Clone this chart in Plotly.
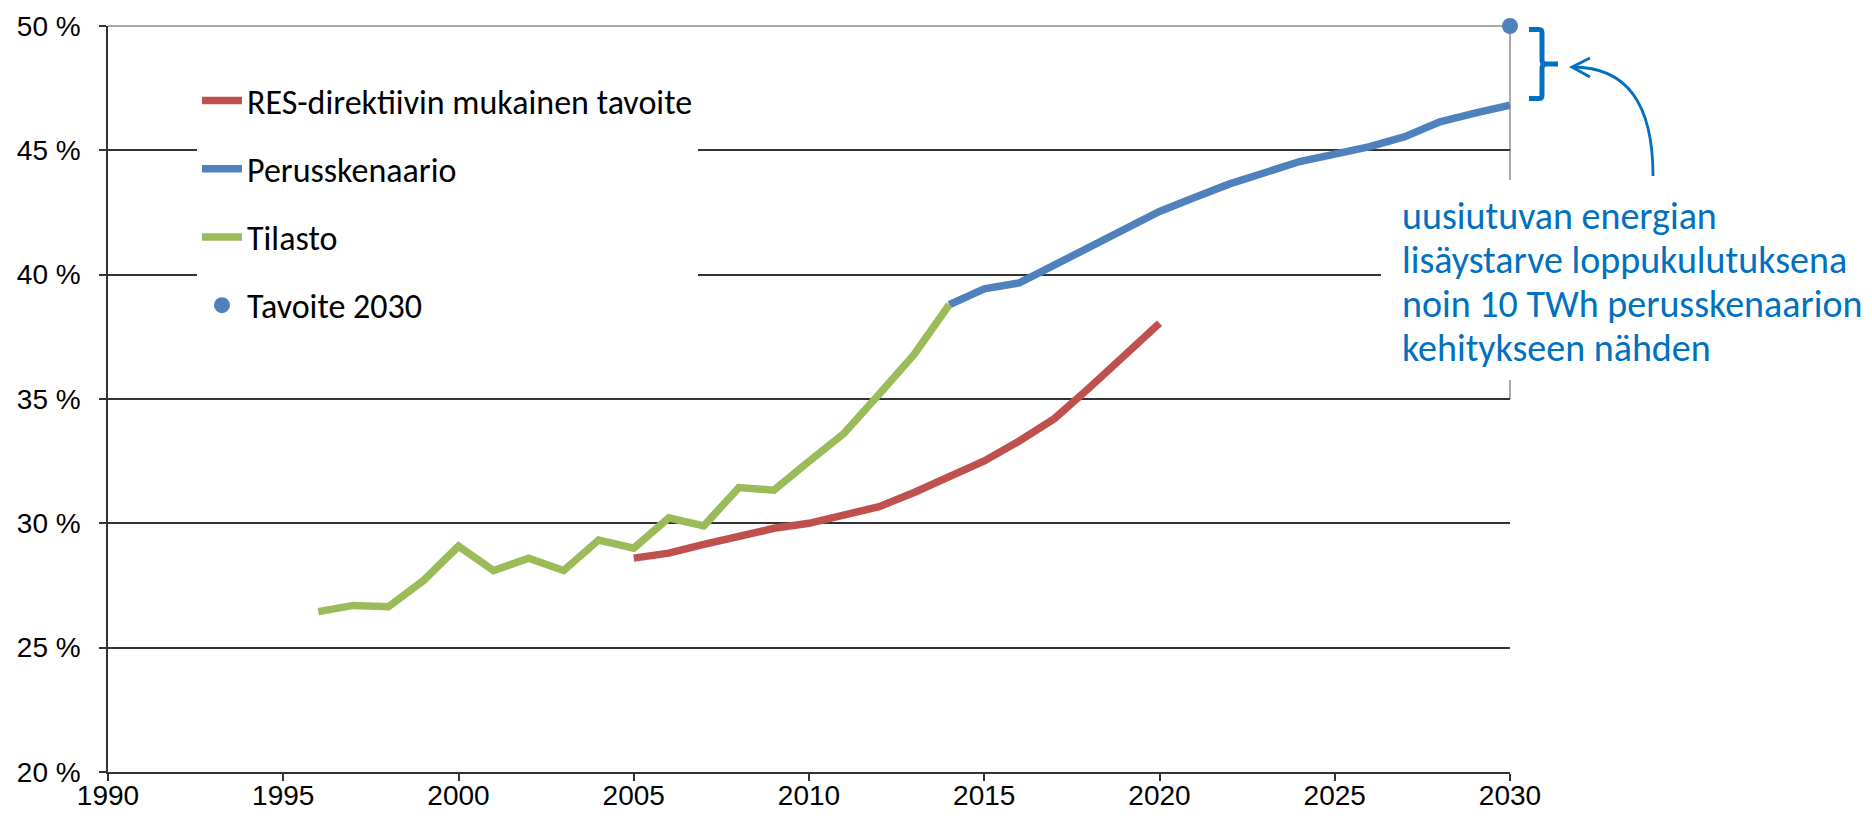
import plotly.graph_objects as go

# ---------------- data ----------------
years_res = list(range(2005, 2021))
res_values = [28.6, 28.8, 29.15, 29.48, 29.8, 30.0, 30.33, 30.67, 31.24, 31.84,
              32.51, 33.31, 34.21, 35.45, 36.7, 38.05]

years_perus = list(range(2014, 2031))
perus_values = [38.79, 39.43, 39.67, 40.4, 41.1, 41.8, 42.54, 43.1, 43.65, 44.1,
                44.55, 44.85, 45.15, 45.55, 46.15, 46.5, 46.82]

years_tilasto = list(range(1996, 2015))
tilasto_values = [26.45, 26.7, 26.65, 27.7, 29.08, 28.1, 28.6, 28.1, 29.33, 29.0,
                  30.22, 29.9, 31.44, 31.33, 32.49, 33.62, 35.19, 36.79, 38.79]

tavoite_years = [2030]
tavoite_values = [50]

series_names = ["RES-direktiivin mukainen tavoite", "Perusskenaario", "Tilasto", "Tavoite 2030"]

x_ticks = list(range(1990, 2031, 5))
y_ticks = [20, 25, 30, 35, 40, 45, 50]
y_ticktext = [f"{v} %" for v in y_ticks]

note_lines = ["uusiutuvan energian",
              "lisäystarve loppukulutuksena",
              "noin 10 TWh perusskenaarion",
              "kehitykseen nähden"]

# ---------------- styling ----------------
W, H = 1872, 822
ML, MR, MT, MB = 108, 362, 26, 50
PW, PH = W - ML - MR, H - MT - MB

RED = "#C0504D"
BLUE = "#4F81BD"
GREEN = "#9BBB59"
NOTE = "#0070C0"
CAL = "Carlito, Calibri, Lato, sans-serif"
ARIAL = "Liberation Sans, Arial, sans-serif"
LW = 7.5


def px(x):
    return (x - ML) / PW


def py(y):
    return (H - MB - y) / PH


fig = go.Figure()
fig.add_trace(go.Scatter(x=years_res, y=res_values, mode="lines", name=series_names[0],
                         legendgroup="a", line=dict(color=RED, width=LW)))
fig.add_trace(go.Scatter(x=years_perus, y=perus_values, mode="lines", name=series_names[1],
                         legendgroup="b", line=dict(color=BLUE, width=LW)))
fig.add_trace(go.Scatter(x=years_tilasto, y=tilasto_values, mode="lines", name=series_names[2],
                         legendgroup="c", line=dict(color=GREEN, width=LW)))
fig.add_trace(go.Scatter(x=tavoite_years, y=tavoite_values, mode="markers", name=series_names[3],
                         legendgroup="d", marker=dict(color=BLUE, size=16), cliponaxis=False))

shapes = [
    # top border line (50 %) in light grey
    dict(type="line", xref="paper", yref="paper", x0=0, x1=1, y0=1, y1=1,
         line=dict(color="#8c8c8c", width=1.5), layer="between"),
    # right vertical line at 2030
    dict(type="line", xref="paper", yref="paper", x0=1, x1=1, y0=(35 - 20) / 30, y1=1,
         line=dict(color="#8c8c8c", width=1.5), layer="between"),
    # white box behind the note text
    dict(type="rect", xref="paper", yref="paper", x0=px(1381), x1=px(1872),
         y0=py(380), y1=py(180), fillcolor="white", line=dict(width=0), layer="above"),
    # bracket
    dict(type="path", xref="paper", yref="paper",
         path=(f"M {px(1529)},{py(29.5)} L {px(1539)},{py(29.5)} "
               f"Q {px(1542)},{py(29.5)} {px(1542)},{py(33)} "
               f"L {px(1542)},{py(60)} Q {px(1542)},{py(64)} {px(1546)},{py(64)} "
               f"L {px(1558)},{py(64)} "
               f"M {px(1546)},{py(64)} Q {px(1542)},{py(64)} {px(1542)},{py(68)} "
               f"L {px(1542)},{py(95)} Q {px(1542)},{py(98.5)} {px(1539)},{py(98.5)} "
               f"L {px(1529)},{py(98.5)}"),
         line=dict(color=NOTE, width=5), layer="above"),
    # curved arrow
    dict(type="path", xref="paper", yref="paper",
         path=f"M {px(1653)},{py(176)} Q {px(1653)},{py(67)} {px(1573)},{py(67)}",
         line=dict(color=NOTE, width=2.8), layer="above"),
    dict(type="path", xref="paper", yref="paper",
         path=(f"M {px(1590)},{py(58)} L {px(1572)},{py(67)} L {px(1590)},{py(77)}"),
         line=dict(color=NOTE, width=2.8), layer="above"),
]

note_centers = [216, 259.5, 304, 348]
annotations = [dict(xref="paper", yref="paper", x=px(1400), y=py(yc),
                    xanchor="left", yanchor="middle", align="left", showarrow=False,
                    text=t, font=dict(family=CAL, size=38, color=NOTE))
               for t, yc in zip(note_lines, note_centers)]

fig.update_layout(
    width=W, height=H,
    margin=dict(l=ML, r=MR, t=MT, b=MB, autoexpand=False),
    paper_bgcolor="white", plot_bgcolor="white",
    showlegend=True,
    legend=dict(x=px(197), y=py(72), xanchor="left", yanchor="top",
                bgcolor="white", borderwidth=0,
                font=dict(family=CAL, size=34, color="black"),
                traceorder="grouped", tracegroupgap=21, itemwidth=40),
    shapes=shapes,
    annotations=annotations,
)

fig.update_xaxes(range=[1990, 2030], tickvals=x_ticks, ticks="outside", ticklen=7,
                 tickcolor="#333333", tickwidth=1.5, showline=True, linecolor="#333333",
                 linewidth=1.5, showgrid=False, zeroline=False, automargin=False,
                 tickfont=dict(family=ARIAL, size=28, color="black"), ticklabelstandoff=-9)
fig.update_yaxes(range=[20, 50], tickvals=y_ticks, ticktext=y_ticktext, ticks="outside",
                 ticklen=7, tickcolor="#333333", tickwidth=1.5, showline=True,
                 linecolor="#333333", linewidth=1.5, showgrid=True, gridcolor="#333333",
                 gridwidth=1.5, zeroline=False, automargin=False,
                 tickfont=dict(family=ARIAL, size=28, color="black"), ticklabelstandoff=13)

fig.write_html("out.html", config={"displayModeBar": False},
               post_script="document.body.style.margin='0px';")
